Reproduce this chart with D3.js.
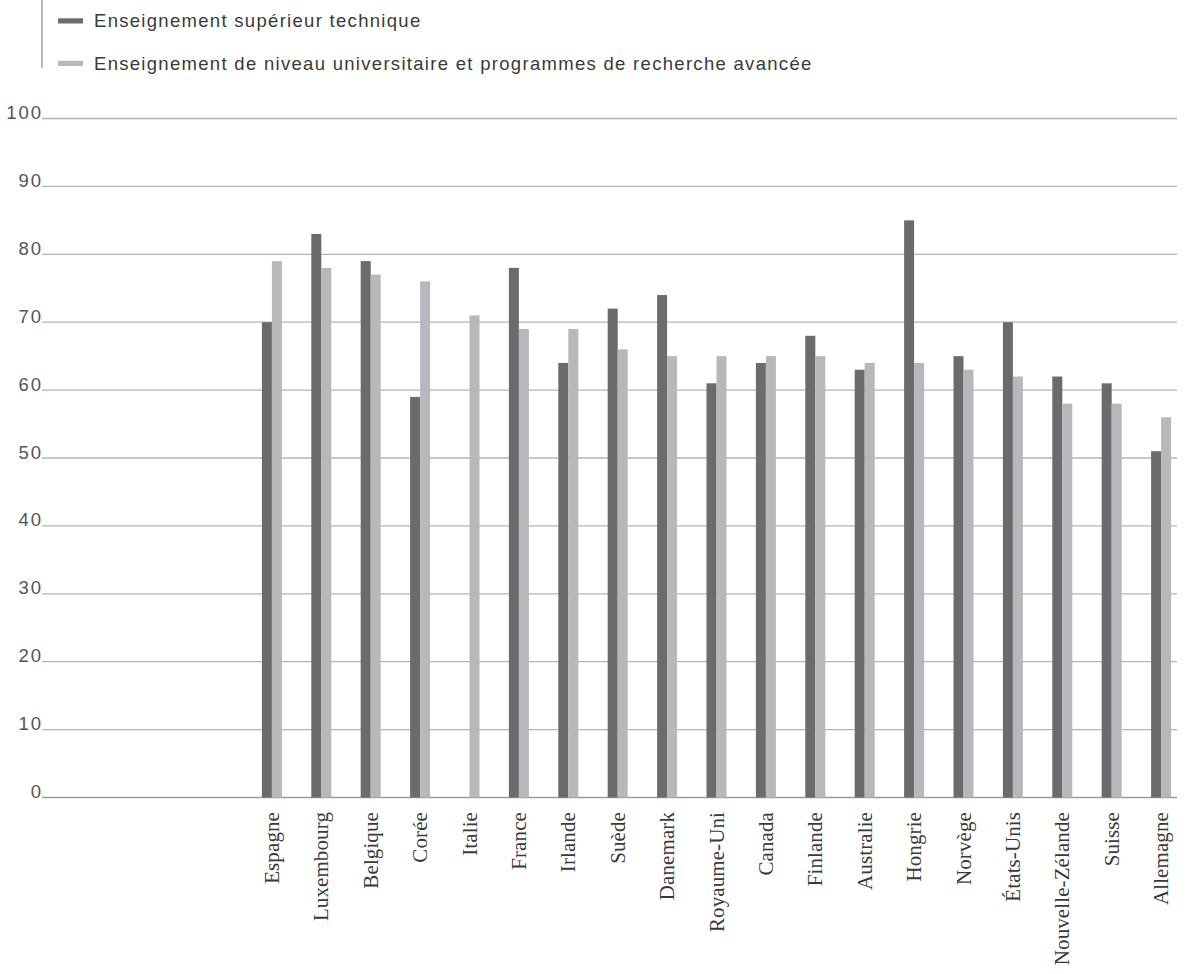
<!DOCTYPE html>
<html>
<head>
<meta charset="utf-8">
<script src="https://cdn.jsdelivr.net/npm/d3@7"></script>
<style>
  html, body { margin: 0; padding: 0; background: #fff; }
  svg { display: block; }
</style>
</head>
<body>
<svg id="chart" width="1189" height="974"></svg>
<script>
// ---- data ----
const countries = ["Espagne","Luxembourg","Belgique","Corée","Italie","France","Irlande","Suède","Danemark","Royaume-Uni","Canada","Finlande","Australie","Hongrie","Norvège","États-Unis","Nouvelle-Zélande","Suisse","Allemagne"];
const technique = [70, 83, 79, 59, null, 78, 64, 72, 74, 61, 64, 68, 63, 85, 65, 70, 62, 61, 51];
const universitaire = [79, 78, 77, 76, 71, 69, 69, 66, 65, 65, 65, 65, 64, 64, 63, 62, 58, 58, 56];
const seriesNames = ["Enseignement supérieur technique", "Enseignement de niveau universitaire et programmes de recherche avancée"];
const yTicks = [0, 10, 20, 30, 40, 50, 60, 70, 80, 90, 100];

// ---- layout ----
const svg = d3.select("#chart");
const colors = ["#6b6b6d", "#b7b8bb"];
const gridLeft = 42, gridRight = 1177;
const sans = "'Liberation Sans', Arial, Helvetica, sans-serif";

const y = d3.scaleLinear().domain([0, 100]).range([797.5, 118.5]);
const step = 49.4;
const x = d3.scaleBand().domain(countries)
  .range([271.9 - step / 2, 271.9 - step / 2 + step * countries.length])
  .paddingInner(1 - 20 / step).paddingOuter((1 - 20 / step) / 2);
const x1 = d3.scaleBand().domain([0, 1]).range([0, x.bandwidth()]);

// gridlines
svg.append("g").selectAll("line").data(yTicks).join("line")
  .attr("x1", gridLeft).attr("x2", gridRight)
  .attr("y1", d => y(d)).attr("y2", d => y(d))
  .attr("stroke", d => d === 0 ? "#9a9a9a" : "#b4b4b4")
  .attr("stroke-width", d => d === 0 ? 1.6 : 1.3);

// y tick labels
svg.append("g").selectAll("text").data(yTicks).join("text")
  .attr("x", 43).attr("y", d => y(d) + 0.5)
  .attr("text-anchor", "end")
  .attr("font-family", sans)
  .attr("font-size", 18.5)
  .attr("letter-spacing", 2)
  .attr("fill", "#555")
  .text(d => d);

// bars
const rows = countries.map((c, i) => ({ c, vals: [technique[i], universitaire[i]] }));
const groups = svg.append("g").selectAll("g").data(rows).join("g")
  .attr("transform", d => `translate(${x(d.c)},0)`);
groups.selectAll("rect")
  .data(d => d.vals.map((v, k) => ({ v, k })).filter(e => e.v != null))
  .join("rect")
  .attr("x", e => x1(e.k))
  .attr("width", x1.bandwidth())
  .attr("y", e => y(e.v))
  .attr("height", e => y(0) - y(e.v))
  .attr("fill", e => colors[e.k]);

// x labels
svg.append("g").selectAll("text").data(countries).join("text")
  .attr("transform", d => `translate(${x(d) + x.bandwidth() / 2 + 7},812) rotate(-90)`)
  .attr("text-anchor", "end")
  .attr("font-family", "'Liberation Serif', 'Times New Roman', serif")
  .attr("font-size", 21)
  .attr("letter-spacing", 0.1)
  .attr("fill", "#3a3a3a")
  .text(d => d);

// legend
svg.append("line").attr("x1", 42).attr("x2", 42).attr("y1", 0).attr("y2", 68)
  .attr("stroke", "#8a8a8a").attr("stroke-width", 1.2);
const leg = svg.append("g").selectAll("g").data(seriesNames).join("g")
  .attr("transform", (d, i) => `translate(0,${i * 42.5})`);
leg.append("rect").attr("x", 58).attr("y", 18.3).attr("width", 25).attr("height", 5.2)
  .attr("fill", (d, i) => colors[i]);
leg.append("text").attr("x", 94).attr("y", 27.3)
  .attr("font-family", sans)
  .attr("font-size", 18.5)
  .attr("letter-spacing", 1.3)
  .attr("fill", "#3a3a3a")
  .text(d => d);
</script>
</body>
</html>
